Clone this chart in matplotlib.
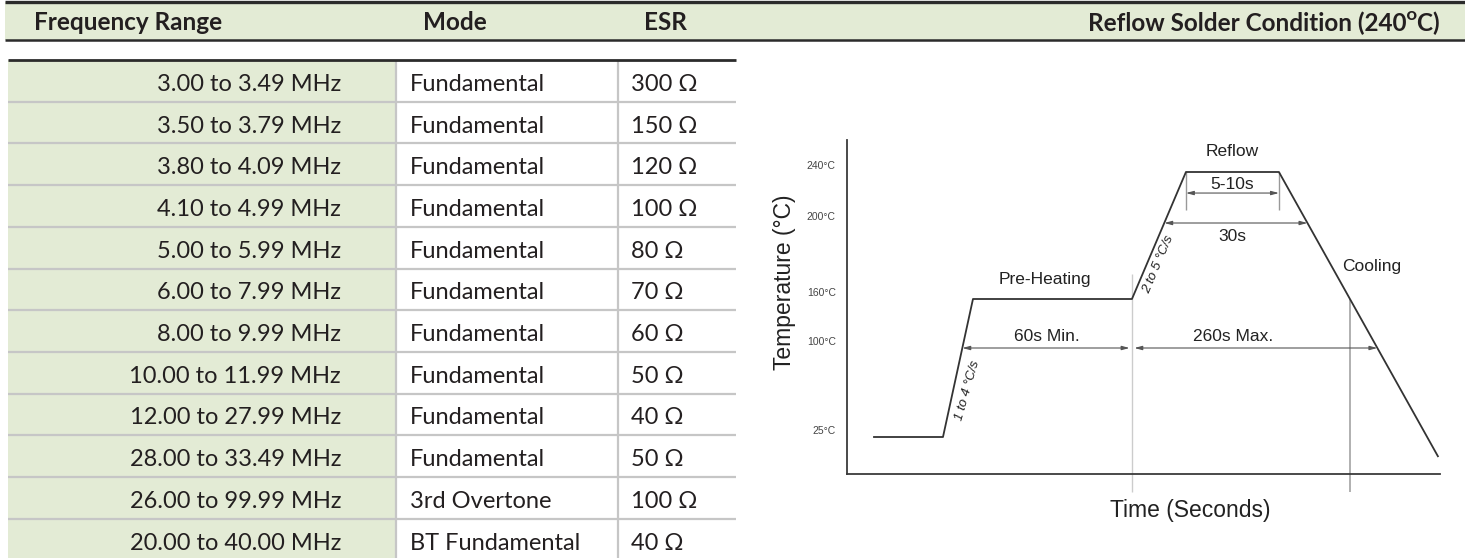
import numpy as np
import matplotlib.pyplot as plt
from matplotlib.patches import Rectangle
from matplotlib.transforms import ScaledTranslation

# ---- table data ----
col_titles = ['Frequency Range', 'Mode', 'ESR']
chart_title = 'Reflow Solder Condition (240\u1d3cC)'
freq_ranges = ['3.00 to 3.49 MHz', '3.50 to 3.79 MHz', '3.80 to 4.09 MHz',
               '4.10 to 4.99 MHz', '5.00 to 5.99 MHz', '6.00 to 7.99 MHz',
               '8.00 to 9.99 MHz', '10.00 to 11.99 MHz', '12.00 to 27.99 MHz',
               '28.00 to 33.49 MHz', '26.00 to 99.99 MHz', '20.00 to 40.00 MHz']
modes = ['Fundamental'] * 10 + ['3rd Overtone', 'BT Fundamental']
esr_ohms = [300, 150, 120, 100, 80, 70, 60, 50, 40, 50, 100, 40]

# ---- reflow profile (schematic time units) ----
profile_time = [9, 32, 42, 95, 113, 144, 197]
profile_temp = [25, 25, 160, 160, 240, 240, 12]
temp_ticks = [25, 100, 160, 200, 240]

GREEN = '#e3ebd5'
INK = '#231f20'
RULE = '#2b2b2b'
GRID = '#c6c6c6'
ARIAL = ['Liberation Sans', 'DejaVu Sans']

plt.rcParams['font.family'] = ['Lato', 'DejaVu Sans']

fig = plt.figure(figsize=(14.65, 5.58), dpi=100)

# table is laid out in pixel units on a full-figure axes
tab = fig.add_axes([0, 0, 1, 1])
tab.set_xlim(0, 1465)
tab.set_ylim(558, 0)
tab.axis('off')

tab.add_patch(Rectangle((5, 2), 1460, 38, color=GREEN, lw=0))
tab.hlines([2, 40], 5, 1465, colors=RULE, linewidths=[2.4, 1.8])
head = dict(va='center', fontsize=17.5, fontweight='bold', color=INK)
tab.text(34, 22, col_titles[0], ha='left', **head)
tab.text(455, 22, col_titles[1], ha='center', **head)
tab.text(665, 22, col_titles[2], ha='center', **head)
tab.text(1440, 22, chart_title, ha='right', **head)

top, row_h = 60, 41.7
n = len(freq_ranges)
yc = top + row_h * (np.arange(n) + 0.5)
tab.barh(yc, 396 - 8, left=8, height=row_h, color=GREEN, lw=0)
tab.hlines(top + row_h * np.arange(1, n + 1), 8, 736, colors=GRID, lw=1.6)
tab.vlines([396, 618], top, 558, colors=GRID, lw=1.6)
tab.hlines(top, 8, 736, colors=RULE, lw=2)

body = dict(va='center_baseline', fontsize=17, color=INK)
for y, f, m, r in zip(yc + 1.5, freq_ranges, modes, esr_ohms):
    tab.text(341, y, f, ha='right', **body)
    tab.text(410, y, m, ha='left', **body)
    tab.text(631, y, f'{r} \u03a9', ha='left', **body)

# ---- reflow chart ----
ax = fig.add_axes([847 / 1465, 84 / 558, 593 / 1465, 334 / 558])
ax.patch.set_alpha(0)

# schematic (non-linear) temperature axis
T_K = [-100, 0, 25, 100, 160, 200, 240, 300]
H_K = [-148, 0, 37, 126, 175, 251, 302, 378.5]
fwd = lambda t: np.interp(t, T_K, H_K)
inv = lambda h: np.interp(h, H_K, T_K)
ax.set_yscale('function', functions=(fwd, inv))
ax.set_ylim(0, 265.1)
ax.set_xlim(0, 197.7)

for s in ['top', 'right']:
    ax.spines[s].set_visible(False)
for s in ['left', 'bottom']:
    ax.spines[s].set_color('#3a3a3a')
    ax.spines[s].set_linewidth(1.3)
ax.set_xticks([])
ax.set_yticks(temp_ticks)
ax.set_yticklabels([f'{t}\u00b0C' for t in temp_ticks], fontsize=7.5,
                   color='#444444', family=ARIAL)
ax.tick_params(axis='y', length=0, pad=8)
shift = ScaledTranslation(0, 5 / 72, fig.dpi_scale_trans)
for lab in ax.get_yticklabels():
    lab.set_transform(lab.get_transform() + shift)

ax.set_ylabel('Temperature (\u00b0C)', fontsize=16.5, family=ARIAL, color='#222222')
ax.yaxis.set_label_coords(-0.086, 192 / 334)
ax.set_xlabel('Time (Seconds)', fontsize=16.5, family=ARIAL, color='#222222')
ax.xaxis.set_label_coords(0.578, -25 / 334)


def cross(i, temp):
    # time where profile segment i -> i+1 passes temp (straight in display)
    h0, h1 = fwd(profile_temp[i]), fwd(profile_temp[i + 1])
    frac = (fwd(temp) - h0) / (h1 - h0)
    return profile_time[i] + frac * (profile_time[i + 1] - profile_time[i])


def dim(x0, x1, temp):
    ax.annotate('', xy=(x1, temp), xytext=(x0, temp),
                arrowprops=dict(arrowstyle='<|-|>,head_length=0.45,head_width=0.12',
                                color='#555555', lw=0.8, shrinkA=0, shrinkB=0))


# reference lines
t_pre_end = profile_time[3]
t_cool160 = cross(5, 160)
ax.vlines(t_pre_end, -12, 173, colors='#cccccc', lw=1, clip_on=False)
ax.vlines(t_cool160, -12, 160, colors='#aaaaaa', lw=1.3, clip_on=False)
ax.vlines([profile_time[4], profile_time[5]], 210, 240, colors='#999999', lw=1)

ax.plot(profile_time, profile_temp, color='#333333', lw=1.3, clip_on=False)

dim(cross(1, 100), t_pre_end - 0.8, 100)
dim(t_pre_end + 0.8, cross(5, 100), 100)
dim(cross(3, 200), cross(5, 200), 200)
dim(profile_time[4], profile_time[5], 223.5)

lbl = dict(fontsize=12.5, family=ARIAL, color='#222222', ha='center', va='center',
           textcoords='offset points', annotation_clip=False)
mid_reflow = (profile_time[4] + profile_time[5]) / 2
ax.annotate('Reflow', (mid_reflow, 240), xytext=(0, 15), **lbl)
ax.annotate('5-10s', (mid_reflow, 223.5), xytext=(0, 6), **lbl)
ax.annotate('30s', (mid_reflow, 200), xytext=(0, -9.5), **lbl)
ax.annotate('Pre-Heating', (66, 160), xytext=(0, 14), **lbl)
ax.annotate('60s Min.', ((cross(1, 100) + t_pre_end) / 2, 100), xytext=(0, 8), **lbl)
ax.annotate('260s Max.', (128.7, 100), xytext=(0, 8), **lbl)
ax.annotate('Cooling', (175, 177), xytext=(0, 0), **lbl)

ax.text(40.3, 64.6, '1 to 4 \u00b0C/s', rotation=74, rotation_mode='anchor',
        ha='center', va='center', fontsize=9.5, style='italic', family=ARIAL,
        color='#222222')
ax.text(103.7, 178, '2 to 5 \u00b0C/s', rotation=67, rotation_mode='anchor',
        ha='center', va='center', fontsize=9.5, style='italic', family=ARIAL,
        color='#222222')

fig.savefig('out.png', dpi=100)
